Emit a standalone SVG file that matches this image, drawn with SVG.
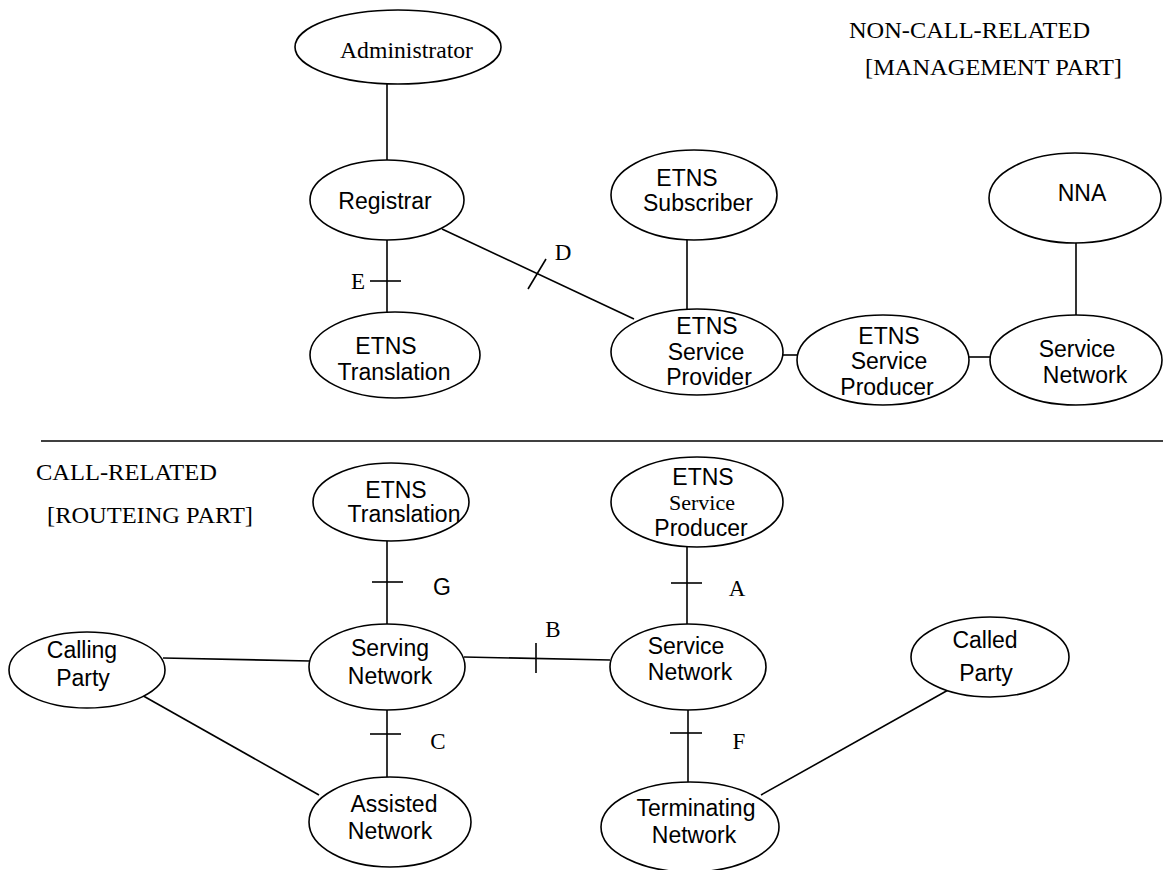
<svg xmlns="http://www.w3.org/2000/svg" width="1163" height="870" viewBox="0 0 1163 870">
<style>
  ellipse { fill: #fff; stroke: #000; stroke-width: 1.6; }
  line { stroke: #000; stroke-width: 1.6; }
  .s { font-family: "Liberation Sans", Arial, sans-serif; font-size: 23px; text-anchor: middle; fill: #000; }
  .r { font-family: "Liberation Serif", "Times New Roman", serif; font-size: 23px; fill: #000; }
  .rm { font-family: "Liberation Serif", "Times New Roman", serif; font-size: 23px; text-anchor: middle; fill: #000; }
</style>
<rect width="1163" height="870" fill="#fff"/>

<g id="connectors">
  <line x1="387" y1="83" x2="387" y2="161"/>
  <line x1="387" y1="240" x2="387" y2="312"/>
  <line x1="370" y1="281" x2="401" y2="281"/>
  <line x1="442" y1="229" x2="634" y2="319"/>
  <line x1="546" y1="259" x2="528" y2="289"/>
  <line x1="687" y1="238" x2="687" y2="312"/>
  <line x1="783" y1="355" x2="797" y2="355"/>
  <line x1="969" y1="357" x2="990" y2="357"/>
  <line x1="1076" y1="243" x2="1076" y2="315"/>
  <line x1="41" y1="441" x2="1163" y2="441"/>
  <line x1="387" y1="541" x2="387" y2="624"/>
  <line x1="372" y1="582" x2="403" y2="582"/>
  <line x1="687" y1="547" x2="687" y2="624"/>
  <line x1="671" y1="583" x2="702" y2="583"/>
  <line x1="163" y1="658" x2="310" y2="661"/>
  <line x1="464" y1="657" x2="610" y2="660"/>
  <line x1="536" y1="643" x2="536" y2="673"/>
  <line x1="387" y1="709" x2="387" y2="777"/>
  <line x1="370" y1="734" x2="401" y2="734"/>
  <line x1="131" y1="689" x2="319" y2="795"/>
  <line x1="688" y1="710" x2="688" y2="782"/>
  <line x1="670" y1="733" x2="702" y2="733"/>
  <line x1="761" y1="795" x2="950" y2="689"/>
</g>

<g id="labels">
  <text class="r" x="849" y="38" textLength="241" lengthAdjust="spacingAndGlyphs">NON-CALL-RELATED</text>
  <text class="r" x="865" y="75" textLength="257" lengthAdjust="spacingAndGlyphs">[MANAGEMENT PART]</text>
  <text class="r" x="36" y="480" textLength="181" lengthAdjust="spacingAndGlyphs">CALL-RELATED</text>
  <text class="r" x="47" y="523" textLength="206" lengthAdjust="spacingAndGlyphs">[ROUTEING PART]</text>
  <text class="rm" x="358" y="289">E</text>
  <text class="rm" x="563" y="260">D</text>
  <text class="s" x="442" y="595">G</text>
  <text class="rm" x="737" y="596">A</text>
  <text class="rm" x="553" y="637">B</text>
  <text class="rm" x="438" y="749">C</text>
  <text class="rm" x="739" y="749">F</text>
</g>

<g id="administrator">
  <ellipse cx="398" cy="47" rx="103" ry="37"/>
  <text class="r" x="340" y="58" textLength="133" lengthAdjust="spacingAndGlyphs">Administrator</text>
</g>
<g id="registrar">
  <ellipse cx="387" cy="200" rx="77" ry="40"/>
  <text class="s" x="385" y="209">Registrar</text>
</g>
<g id="etns-translation-top">
  <ellipse cx="395" cy="355" rx="85" ry="43"/>
  <text class="s" x="386" y="354">ETNS</text>
  <text class="s" x="394" y="380">Translation</text>
</g>
<g id="etns-subscriber">
  <ellipse cx="694" cy="195" rx="83" ry="45"/>
  <text class="s" x="687" y="186">ETNS</text>
  <text class="s" x="698" y="211">Subscriber</text>
</g>
<g id="nna">
  <ellipse cx="1075" cy="198" rx="86" ry="45"/>
  <text class="s" x="1082" y="201">NNA</text>
</g>
<g id="etns-service-provider">
  <ellipse cx="697" cy="352" rx="86" ry="43"/>
  <text class="s" x="707" y="334">ETNS</text>
  <text class="s" x="706" y="360">Service</text>
  <text class="s" x="709" y="385">Provider</text>
</g>
<g id="etns-service-producer-top">
  <ellipse cx="883" cy="360" rx="86" ry="45"/>
  <text class="s" x="889" y="344">ETNS</text>
  <text class="s" x="889" y="369">Service</text>
  <text class="s" x="887" y="395">Producer</text>
</g>
<g id="service-network-top">
  <ellipse cx="1076" cy="360" rx="86" ry="45"/>
  <text class="s" x="1077" y="357">Service</text>
  <text class="s" x="1085" y="383">Network</text>
</g>

<g id="etns-translation-bottom">
  <ellipse cx="391" cy="502" rx="78" ry="39"/>
  <text class="s" x="396" y="498">ETNS</text>
  <text class="s" x="404" y="522">Translation</text>
</g>
<g id="etns-service-producer-bottom">
  <ellipse cx="697" cy="502" rx="86" ry="45"/>
  <text class="s" x="703" y="485">ETNS</text>
  <text class="rm" x="702" y="510" style="font-size:22px">Service</text>
  <text class="s" x="701" y="536">Producer</text>
</g>
<g id="calling-party">
  <ellipse cx="87" cy="670" rx="78" ry="38"/>
  <text class="s" x="82" y="658">Calling</text>
  <text class="s" x="83" y="686">Party</text>
</g>
<g id="serving-network">
  <ellipse cx="387" cy="667" rx="78" ry="43"/>
  <text class="s" x="390" y="656">Serving</text>
  <text class="s" x="390" y="684">Network</text>
</g>
<g id="service-network-bottom">
  <ellipse cx="688" cy="667" rx="78" ry="43"/>
  <text class="s" x="686" y="654">Service</text>
  <text class="s" x="690" y="680">Network</text>
</g>
<g id="called-party">
  <ellipse cx="990" cy="657" rx="79" ry="40"/>
  <text class="s" x="985" y="648">Called</text>
  <text class="s" x="986" y="681">Party</text>
</g>
<g id="assisted-network">
  <ellipse cx="390" cy="822" rx="81" ry="45"/>
  <text class="s" x="394" y="812">Assisted</text>
  <text class="s" x="390" y="839">Network</text>
</g>
<g id="terminating-network">
  <ellipse cx="690" cy="827" rx="89" ry="45"/>
  <text class="s" x="696" y="816">Terminating</text>
  <text class="s" x="694" y="843">Network</text>
</g>
</svg>
